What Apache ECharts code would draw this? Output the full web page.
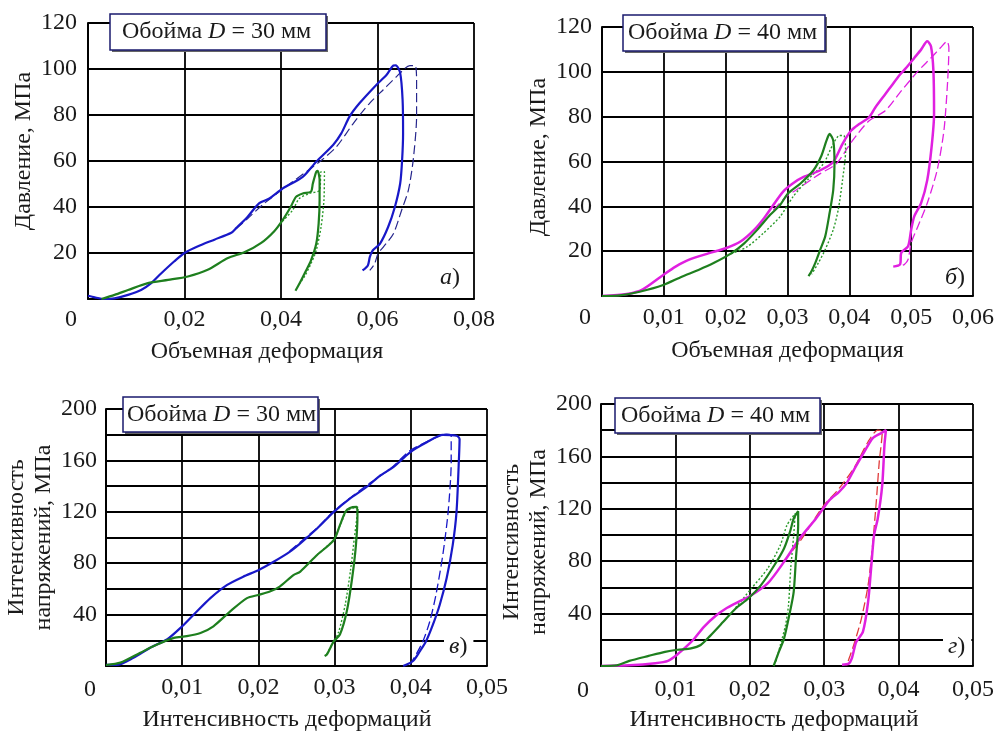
<!DOCTYPE html>
<html><head><meta charset="utf-8">
<script src="https://cdn.jsdelivr.net/npm/echarts@6/dist/echarts.min.js"></script>
<style>html,body{margin:0;padding:0;background:#fff}#c{width:997px;height:733px}</style>
</head><body><div id="c"></div>
<script>
const FONT = "'Liberation Serif','Times New Roman',serif";
const TXT = '#1a1a1a';

// ---------- Panel a: pressure vs volumetric strain, D = 30 mm ----------
const aBlue = [[0,1.4],[0.0014,0.7],[0.0034,0],[0.0055,0.3],[0.0083,1.8],[0.011,3.9],[0.0131,6.9],[0.0152,11.2],[0.0179,16.4],[0.02,20],[0.0228,22.9],[0.0262,25.8],[0.0297,28.8],[0.0307,30.8],[0.0331,35.8],[0.0355,41.7],[0.0376,43.7],[0.0403,48],[0.0445,53.1],[0.0473,59.7],[0.0508,67],[0.0525,72],[0.0542,79.3],[0.0563,85.2],[0.0598,93.2],[0.0619,97.5],[0.0633,101.5],[0.0638,101.6],[0.0647,98.3],[0.0652,86.6],[0.0653,72.1],[0.0651,60.4],[0.0647,50.2],[0.0636,40],[0.0622,31.3],[0.0605,24],[0.059,21.1],[0.0584,18.2],[0.058,14.6],[0.0569,12.4]];
const aBlueDash = [[0.0307,30.5],[0.0331,35],[0.0362,41],[0.041,48.8],[0.048,59.7],[0.0515,66.2],[0.055,76.4],[0.0584,85.2],[0.0612,91],[0.064,96.8],[0.0667,101.5],[0.0678,101.5],[0.0681,95.3],[0.0681,79.3],[0.0674,60.4],[0.0664,47.3],[0.065,38.6],[0.0633,28.4],[0.0612,22.6],[0.0601,19.7],[0.0594,15.3],[0.0584,12.4]];
const aGreen = [[0.0028,0],[0.0055,1.8],[0.0083,3.9],[0.0124,6.9],[0.0166,8.3],[0.0207,9.8],[0.0248,12.7],[0.029,17.8],[0.0324,20.3],[0.0359,24.4],[0.0386,29.5],[0.0403,34.2],[0.042,40],[0.0431,44.4],[0.0445,45.9],[0.0462,46.6],[0.0466,50.2],[0.0473,55.3],[0.0476,55.7],[0.048,51.7],[0.048,42.9],[0.0478,32.8],[0.0473,24],[0.0462,16.7],[0.0452,12.4],[0.0438,6.6],[0.043,3.6]];
const aGreenDot = [[0.0403,33.8],[0.0424,38.6],[0.0438,43.7],[0.0459,45.9],[0.048,47.3],[0.0483,55.3],[0.049,55.3],[0.0489,42.9],[0.0483,31.3],[0.0473,21.1],[0.0462,15.3],[0.0448,9.5],[0.0438,6.6]];

// ---------- Panel b: pressure vs volumetric strain, D = 40 mm ----------
const bMag = [[0,0],[0.004,0.9],[0.0066,3],[0.0099,9.4],[0.0119,13.1],[0.014,16.1],[0.0172,19],[0.02,21.3],[0.0224,24.3],[0.0246,29.5],[0.0262,34.7],[0.0277,40.6],[0.0293,46.6],[0.0309,50.3],[0.0326,53.1],[0.0353,56.1],[0.0374,59.8],[0.0389,67.9],[0.0403,73.8],[0.0416,76.7],[0.0432,79.7],[0.0442,84.1],[0.0458,90],[0.0468,93.7],[0.0482,98.8],[0.0492,101.8],[0.0505,106.2],[0.0516,109.9],[0.0526,113.6],[0.0532,111.4],[0.0536,100.3],[0.0537,81.1],[0.0533,66.4],[0.0526,51.7],[0.0516,41.4],[0.0505,35.5],[0.05,29.6],[0.0495,22.2],[0.0484,19.3],[0.0482,14.1],[0.0471,13.1]];
const bMagDash = [[0.0277,38.4],[0.0298,44.3],[0.0314,47.3],[0.0353,54.6],[0.0379,59],[0.0405,69.3],[0.0432,78.2],[0.0458,82.6],[0.0484,91.5],[0.0511,100.3],[0.0532,106.2],[0.0547,110.6],[0.0558,113.6],[0.0561,110.6],[0.0559,95.9],[0.0553,73.8],[0.0542,56.1],[0.0526,41.4],[0.0511,31.1],[0.05,23.7],[0.0495,16.3],[0.0489,14.1],[0.0482,13.4]];
const bGreen = [[0,0],[0.0029,0.3],[0.0061,1.9],[0.0099,4.9],[0.0129,8.6],[0.0156,11.6],[0.0182,14.9],[0.0209,19],[0.023,23.5],[0.0251,29.5],[0.0272,36.2],[0.0288,40.6],[0.0301,45.8],[0.0321,50.2],[0.0342,56.1],[0.0355,62.7],[0.0363,69.3],[0.0368,72.3],[0.0374,69.3],[0.0376,59],[0.0374,47.3],[0.0368,36.9],[0.0361,26.6],[0.0353,20.7],[0.0345,14.8],[0.0339,11.2],[0.0334,8.9]];
const bGreenDot = [[0.0209,18.8],[0.0235,22],[0.0261,28],[0.0288,35.4],[0.0309,44.3],[0.0332,51.7],[0.0358,59],[0.0374,67.9],[0.0384,71.6],[0.0391,71.6],[0.0394,64.9],[0.0389,51.7],[0.0382,38.4],[0.0374,29.6],[0.0361,20.7],[0.035,14.8],[0.0339,9.7]];

// ---------- Panel c: stress intensity vs strain intensity, D = 30 mm ----------
const cBlue = [[0,0.8],[0.0014,0.8],[0.0036,6.4],[0.0058,14.2],[0.008,20.6],[0.01,30.9],[0.0115,39.9],[0.0137,52.8],[0.0159,63.1],[0.018,69.5],[0.02,74.6],[0.022,81.1],[0.0241,88.8],[0.0255,95.4],[0.0277,107],[0.0299,119.9],[0.032,130.2],[0.0342,139.3],[0.036,148.3],[0.0377,154.7],[0.0399,166.3],[0.0421,174.1],[0.0442,179.8],[0.046,179.2],[0.0464,176.7],[0.0463,158.6],[0.046,119.9],[0.0455,94.1],[0.0447,68.3],[0.0438,47.7],[0.0429,32.2],[0.042,19.3],[0.0412,11.6],[0.0403,3.9],[0.039,0]];
const cBlueDash = [[0.0241,89.5],[0.0277,107.5],[0.0299,120.5],[0.0342,140.6],[0.0373,153.4],[0.0399,167.6],[0.0429,176.7],[0.0447,180.5],[0.0453,179.2],[0.0453,158.6],[0.0449,119.9],[0.0442,86.4],[0.0433,55.4],[0.0425,34.8],[0.0416,19.3],[0.0407,9],[0.0399,1.3]];
const cGreen = [[0,0.8],[0.0019,2.6],[0.0045,10.3],[0.0067,16.7],[0.0089,21.9],[0.0106,23.2],[0.0124,25.7],[0.0141,30.9],[0.0163,42.5],[0.0185,52.8],[0.02,55.3],[0.0215,57.9],[0.0228,61.8],[0.0246,70.8],[0.0255,73.5],[0.0277,86.4],[0.0299,98],[0.0307,109.6],[0.0314,119.9],[0.032,123],[0.0329,123.8],[0.033,117.3],[0.0328,94.1],[0.0323,68.3],[0.0316,42.6],[0.0307,24.5],[0.0299,19.3],[0.029,9],[0.0287,7.7]];
const cGreenDot = [[0.0277,86.6],[0.0299,98.5],[0.0309,112],[0.0316,120.5],[0.0325,123],[0.0331,123.5],[0.0326,100],[0.0321,75],[0.0314,48],[0.0305,26],[0.0296,16],[0.0289,8.5]];

// ---------- Panel d: stress intensity vs strain intensity, D = 40 mm ----------
const dMag = [[0,0],[0.0038,0.5],[0.0073,2.1],[0.009,3.9],[0.0103,9],[0.0116,15.5],[0.0125,20.6],[0.0138,29.7],[0.0155,38.7],[0.0168,43.9],[0.018,47.6],[0.0202,54],[0.0224,63],[0.0246,79.5],[0.0267,97.3],[0.0289,112.6],[0.0307,126.6],[0.032,133],[0.033,139.4],[0.0341,150.8],[0.0354,163.6],[0.0365,173.8],[0.0376,177.6],[0.0383,180.1],[0.0381,168.7],[0.0378,138.1],[0.0372,112.6],[0.0367,99.9],[0.0363,74.4],[0.0359,48.9],[0.0352,26],[0.0343,18.3],[0.0337,5.6],[0.0333,1.8],[0.0324,1]];
const dRedDash = [[0.0246,80.5],[0.0267,94.8],[0.0298,121.5],[0.032,135.5],[0.0341,152.1],[0.0359,171.2],[0.0372,180.1],[0.0378,178.9],[0.0374,155.9],[0.037,125.4],[0.0365,92.2],[0.0359,61.7],[0.035,36.2],[0.0341,18.3],[0.0335,8.2],[0.033,0.5]];
const dGreen = [[0,0],[0.0021,0.5],[0.0038,3.9],[0.0064,7.7],[0.0086,10.8],[0.0103,12.4],[0.0121,13.4],[0.0134,16],[0.0147,23.2],[0.0164,33.5],[0.0181,43.9],[0.0198,51.5],[0.0215,61.7],[0.0233,76.9],[0.0246,89.7],[0.0254,102.4],[0.0259,112.6],[0.0265,118.2],[0.0265,107.5],[0.0262,82],[0.0259,56.6],[0.0254,41.3],[0.0246,20.9],[0.0239,10.7],[0.0232,0]];
const dGreenDot = [[0.0181,44.5],[0.0202,59.1],[0.0224,74.4],[0.0241,92.2],[0.025,107.5],[0.0261,116.4],[0.0259,99.9],[0.0255,74.4],[0.0252,46.4],[0.0248,31.1],[0.0241,15.8],[0.0235,3]];

// ---------- axes / texts ----------
const xMax = [0.08, 0.06, 0.05, 0.05];
const xStep = [0.02, 0.01, 0.01, 0.01];
const yMax = [120, 120, 200, 200];
const yLabelStep = [20, 20, 40, 40];
const xNames = ['Объемная деформация','Объемная деформация','Интенсивность деформаций','Интенсивность деформаций'];
const yNames = ['Давление, МПа','Давление, МПа','Интенсивность\nнапряжений, МПа','Интенсивность\nнапряжений, МПа'];
const boxDiameters = ['30','40','30','40'];
const panelLetters = ['а','б','в','г'];

// layout (pixels)
const grids = [
  {left:88, top:23, width:386, height:276},
  {left:602, top:27, width:377, height:269},
  {left:106, top:409, width:381, height:259},
  {left:601, top:404, width:384, height:263}
];
const xNameGap = [41, 43, 42, 42];
const xNamePadR = [28, 0, 19, 26];
const yNameGap = [48, 50, 46, 43];
const yNamePad = [[0,0,0,20],[0,0,0,9],[0,0,0,0],[0,14,0,0]];
const xLabMargin = [9, 10, 10, 12];
const yLabMargin = [11, 10, 9, 9];
const boxes = [
  {x:110, y:14, w:216, h:36, tx:122},
  {x:623, y:15, w:202, h:36, tx:628},
  {x:123, y:397, w:195, h:35, tx:127},
  {x:615, y:398, w:205, h:35, tx:621}
];
const origin0 = [[71,320],[585,318],[90,690],[583,691]];
const letterPos = [[440,278,false],[945,278,false],[449,647,true],[948,647,true]];

const fs = 24;
const xAxes = [], yAxes = [];
for (let i = 0; i < 4; i++) {
  xAxes.push({
    type:'value', gridIndex:i, min:0, max:xMax[i], interval:xStep[i],
    name:xNames[i], nameLocation:'middle', nameGap:xNameGap[i],
    nameTextStyle:{fontFamily:FONT, fontSize:fs, color:TXT, padding:[0,xNamePadR[i],0,0]},
    axisLine:{show:true, lineStyle:{color:'#000', width:2}},
    axisTick:{show:false},
    axisLabel:{fontFamily:FONT, fontSize:fs, color:TXT, margin:xLabMargin[i], showMaxLabel:true,
      formatter: v => (Math.abs(v) < 1e-9 ? '' : v.toFixed(2).replace('.', ','))},
    splitLine:{show:true, lineStyle:{color:'#000', width:1.8}}
  });
  yAxes.push({
    type:'value', gridIndex:i, min:0, max:yMax[i], interval:20,
    name:yNames[i], nameLocation:'middle', nameRotate:90, nameGap:yNameGap[i],
    nameTextStyle:{fontFamily:FONT, fontSize:fs, color:TXT, lineHeight:27, padding:yNamePad[i]},
    axisLine:{show:true, lineStyle:{color:'#000', width:2}},
    axisTick:{show:false},
    axisLabel:{fontFamily:FONT, fontSize:fs, color:TXT, margin:yLabMargin[i],
      formatter: v => (v === 0 || v % yLabelStep[i] !== 0 ? '' : String(v))},
    splitLine:{show:true, lineStyle:{color:'#000', width:1.8}}
  });
}

function ln(data, i, color, width, type) {
  return {type:'line', xAxisIndex:i, yAxisIndex:i, data:data, showSymbol:false, symbol:'none',
    smooth:0.25, z:3, lineStyle:{color:color, width:width, type:type}};
}
const BLUE = '#1818c8', BLUE_D = '#26268c', GREEN = '#1e7f1e', GREEN_D = '#2a9a2a', MAG = '#e020e0', RED = '#e03a3a';
const series = [
  ln(aBlueDash, 0, BLUE_D, 1.2, [9,4]),
  ln(aGreenDot, 0, GREEN_D, 1.4, [2,2]),
  ln(aBlue, 0, BLUE, 2.2, 'solid'),
  ln(aGreen, 0, GREEN, 2.2, 'solid'),
  ln(bMagDash, 1, MAG, 1.3, [9,4]),
  ln(bGreenDot, 1, GREEN_D, 1.4, [2,2]),
  ln(bMag, 1, MAG, 2.5, 'solid'),
  ln(bGreen, 1, GREEN, 2.2, 'solid'),
  ln(cBlueDash, 2, BLUE, 1.3, [9,4]),
  ln(cGreenDot, 2, GREEN_D, 1.4, [2,2]),
  ln(cBlue, 2, BLUE, 2.2, 'solid'),
  ln(cGreen, 2, GREEN, 2.2, 'solid'),
  ln(dRedDash, 3, RED, 1.3, [9,4]),
  ln(dGreenDot, 3, GREEN_D, 1.4, [2,2]),
  ln(dMag, 3, MAG, 2.5, 'solid'),
  ln(dGreen, 3, GREEN, 2.2, 'solid')
];

const graphic = [];
for (let i = 0; i < 4; i++) {
  const b = boxes[i];
  graphic.push({type:'rect', z:100, shape:{x:b.x+2, y:b.y+2, width:b.w, height:b.h}, style:{fill:'#666'}});
  graphic.push({type:'rect', z:101, shape:{x:b.x, y:b.y, width:b.w, height:b.h}, style:{fill:'#fff', stroke:'#1a1a6e', lineWidth:1.5}});
  graphic.push({type:'text', z:102, x:b.tx, y:b.y + b.h/2, style:{
    text:'Обойма {i|D} = ' + boxDiameters[i] + ' мм', fontFamily:FONT, fontSize:fs, fill:TXT,
    verticalAlign:'middle', align:'left',
    rich:{i:{fontStyle:'italic', fontFamily:FONT, fontSize:fs, fill:TXT}}}});
  graphic.push({type:'text', z:102, x:origin0[i][0], y:origin0[i][1], style:{
    text:'0', fontFamily:FONT, fontSize:fs, fill:TXT, align:'center', verticalAlign:'middle'}});
  const lp = letterPos[i];
  const st = {text:'{i|' + panelLetters[i] + '})', fontFamily:FONT, fontSize:fs, fill:TXT, align:'left', verticalAlign:'middle',
    rich:{i:{fontStyle:'italic', fontFamily:FONT, fontSize:fs, fill:TXT}}};
  if (lp[2]) { st.backgroundColor = '#fff'; st.padding = [3,6,3,5]; }
  graphic.push({type:'text', z:102, x:lp[0] - (lp[2] ? 5 : 0), y:lp[1], style:st});
}

const chart = echarts.init(document.getElementById('c'), null, {renderer:'canvas'});
chart.setOption({
  animation:false,
  backgroundColor:'#fff',
  textStyle:{fontFamily:FONT},
  grid:grids,
  xAxis:xAxes,
  yAxis:yAxes,
  series:series,
  graphic:graphic
});
</script></body></html>
